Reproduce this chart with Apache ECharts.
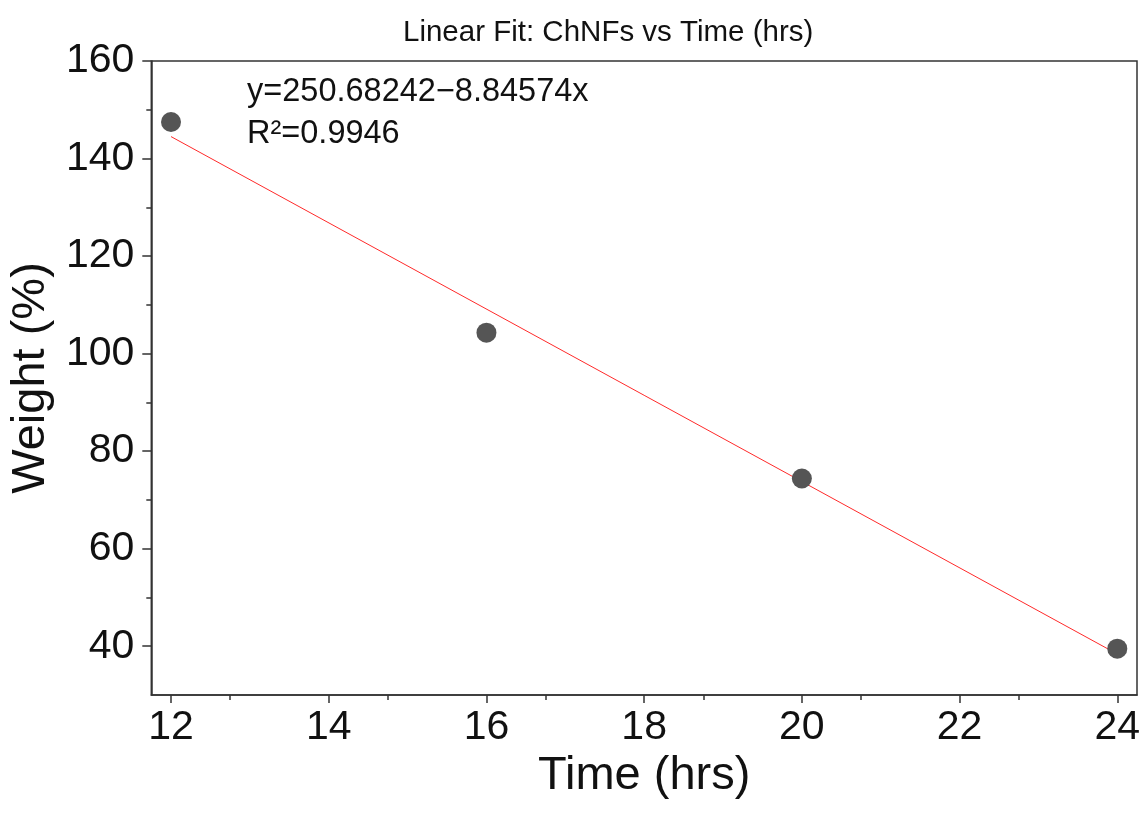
<!DOCTYPE html>
<html>
<head>
<meta charset="utf-8">
<script src="https://cdn.jsdelivr.net/npm/echarts@6/dist/echarts.min.js"></script>
<style>
html,body{margin:0;padding:0;background:#fff;}
#chart{width:1148px;height:824px;}
</style>
</head>
<body>
<div id="chart"></div>
<script>
// Data
var timeHrs = [12, 16, 20, 24];
var weightPct = [147.5, 104.3, 74.4, 39.5];
// Fitted line endpoints
var fitX = [12, 24];
var fitY = [144.5, 38.4];
var titleText = 'Linear Fit: ChNFs vs Time (hrs)';
var eqText = 'y=250.68242\u22128.84574x';
var r2Text = 'R\u00B2=0.9946';
var xTicks = [12, 14, 16, 18, 20, 22, 24];
var yTicks = [40, 60, 80, 100, 120, 140, 160];
var yMinorTicks = [50, 70, 90, 110, 130, 150];

var FONT = '"Liberation Sans", Arial, sans-serif';
var chart = echarts.init(document.getElementById('chart'));

var pts = timeHrs.map(function (x, i) { return [x, weightPct[i]]; });
var fitPts = fitX.map(function (x, i) { return [x, fitY[i]]; });

var AX = '#333';

chart.setOption({
  animation: false,
  backgroundColor: '#ffffff',
  title: {
    text: titleText,
    left: 398,
    top: 13,
    textStyle: { fontFamily: FONT, fontSize: 29.5, fontWeight: 'normal', color: '#111' }
  },
  grid: {
    left: 151, right: 11, top: 61, bottom: 129,
    show: true, borderColor: AX, borderWidth: 1.5, backgroundColor: 'transparent'
  },
  xAxis: {
    type: 'value',
    min: 11.75, max: 24.25,
    interval: 2,
    name: 'Time (hrs)',
    nameLocation: 'middle',
    nameGap: 54,
    nameTextStyle: { fontFamily: FONT, fontSize: 47, color: '#111' },
    axisLine: { show: true, onZero: false, lineStyle: { color: AX, width: 1.5 } },
    axisTick: { show: true, length: 8, inside: false, lineStyle: { color: AX, width: 1.5 }, customValues: xTicks },
    minorTick: { show: true, splitNumber: 2, length: 5, lineStyle: { color: AX, width: 1.5 } },
    axisLabel: {
      fontFamily: FONT, fontSize: 41, color: '#111', margin: 12,
      customValues: xTicks
    },
    splitLine: { show: false },
    minorSplitLine: { show: false }
  },
  yAxis: [
    {
      type: 'value',
      min: 30, max: 160,
      interval: 10,
      name: 'Weight (%)',
      nameLocation: 'middle',
      nameGap: 86,
      nameRotate: 90,
      nameTextStyle: { fontFamily: FONT, fontSize: 47, color: '#111' },
      axisLine: { show: true, onZero: false, lineStyle: { color: AX, width: 1.5 } },
      axisTick: { show: true, length: 9, inside: false, lineStyle: { color: AX, width: 1.5 }, customValues: yTicks },
      minorTick: { show: false },
      axisLabel: {
        fontFamily: FONT, fontSize: 41, color: '#111', margin: 17,
        customValues: yTicks
      },
      splitLine: { show: false }
    },
    {
      type: 'value',
      position: 'left',
      min: 30, max: 160,
      interval: 10,
      axisLine: { show: false },
      axisTick: { show: true, length: 5, inside: false, lineStyle: { color: AX, width: 1.5 }, customValues: yMinorTicks },
      axisLabel: { show: false },
      splitLine: { show: false }
    }
  ],
  series: [
    {
      type: 'line',
      data: fitPts,
      showSymbol: false,
      symbol: 'none',
      lineStyle: { color: '#ff2a2a', width: 1 },
      z: 2,
      silent: true
    },
    {
      type: 'scatter',
      data: pts,
      symbol: 'circle',
      symbolSize: 20,
      itemStyle: { color: '#555555', opacity: 1 },
      z: 3
    }
  ],
  graphic: [
    {
      type: 'text',
      left: 247, top: 76,
      style: { text: eqText, font: '32.5px ' + FONT, fill: '#111' }
    },
    {
      type: 'text',
      left: 247, top: 118,
      style: { text: r2Text, font: '32.5px ' + FONT, fill: '#111' }
    }
  ]
});
</script>
</body>
</html>
